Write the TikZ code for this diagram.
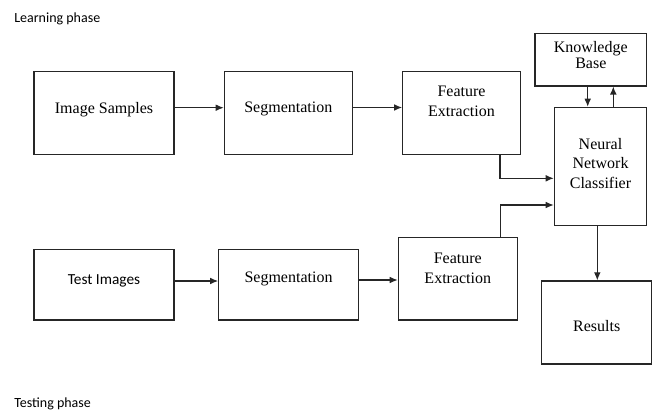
\documentclass[tikz,border=0pt]{standalone}
\usepackage{fontspec}
\setmainfont{Liberation Serif}
\newfontfamily\calfont{Carlito}
\usetikzlibrary{arrows.meta,calc}
\begin{document}
\begin{tikzpicture}[x=0.75pt,y=-0.75pt,
  box/.style={draw=black!85,line width=0.85pt,minimum width=#1,inner sep=0pt},
  txt/.style={align=center,font=\fontsize{12}{15}\selectfont,inner sep=0pt},
  ctxt/.style={font=\calfont\fontsize{11.5}{14}\selectfont,inner sep=0pt},
  ptxt/.style={font=\calfont\fontsize{10.5}{12}\selectfont,inner sep=0pt,anchor=west},
  arr/.style={draw=black!85,line width=0.85pt,-{Latex[length=6pt,width=5pt]}},
  ln/.style={draw=black!85,line width=0.85pt}]
\useasboundingbox (0,0) rectangle (656,412);
% boxes
\node[box=105pt,minimum height=62pt] (IS) at (104,113) {};
\node[box=96pt,minimum height=62pt] (S1) at (288.3,113) {};
\node[box=88.2pt,minimum height=62pt] (F1) at (461.5,113) {};
\node[box=83.8pt,minimum height=39.2pt] (KB) at (590.8,59.8) {};
\node[box=69.3pt,minimum height=88.8pt] (NN) at (600.5,166.5) {};
\node[box=105pt,minimum height=53pt] (TI) at (104,284.7) {};
\node[box=104.7pt,minimum height=53pt] (S2) at (288.5,284.7) {};
\node[box=89.3pt,minimum height=62pt] (F2) at (457.8,278.7) {};
\node[box=82.5pt,minimum height=62.3pt] (RS) at (596.7,322.5) {};
% texts
\node[txt] (tIS) at (104,109.3) {Image Samples};
\node[txt] (tS1) at (288.3,109.3) {Segmentation};
\node[txt] (tF1) at (461.5,101.7) {Feature\\Extraction};
\node[txt,font=\fontsize{12}{12.5}\selectfont] (tKB) at (590.8,55) {Knowledge\\Base};
\node[txt,font=\fontsize{12}{14.5}\selectfont] (tNN) at (600.5,163.3) {Neural\\Network\\Classifier};
\node[ctxt] (tTI) at (104,281) {Test Images};
\node[txt] (tS2) at (288.5,279.3) {Segmentation};
\node[txt] (tF2) at (457.8,268.3) {Feature\\Extraction};
\node[txt] (tRS) at (596.7,326) {Results};
\node[ptxt] (lp) at (14,19) {Learning phase};
\node[ptxt] (tp) at (14,404) {Testing phase};
% connectors
\draw[arr] (IS.east |- 0,107.7) -- (S1.west |- 0,107.7);
\draw[arr] (S1.east |- 0,107.5) -- (F1.west |- 0,107.5);
\draw[arr] (F1.south -| 500,0) |- (NN.west |- 0,178.3);
\draw[arr] (F2.north -| 500.7,0) |- (NN.west |- 0,205);
\draw[arr] (TI.east |- 0,281) -- (S2.west |- 0,281);
\draw[arr] (S2.east |- 0,280) -- (F2.west |- 0,280);
\draw[arr] (KB.south -| 587.7,0) -- (NN.north -| 587.7,0);
\draw[arr] (NN.north -| 613.3,0) -- (KB.south -| 613.3,0);
\draw[arr] (NN.south -| 597.3,0) -- (RS.north -| 597.3,0);
\end{tikzpicture}
\end{document}
